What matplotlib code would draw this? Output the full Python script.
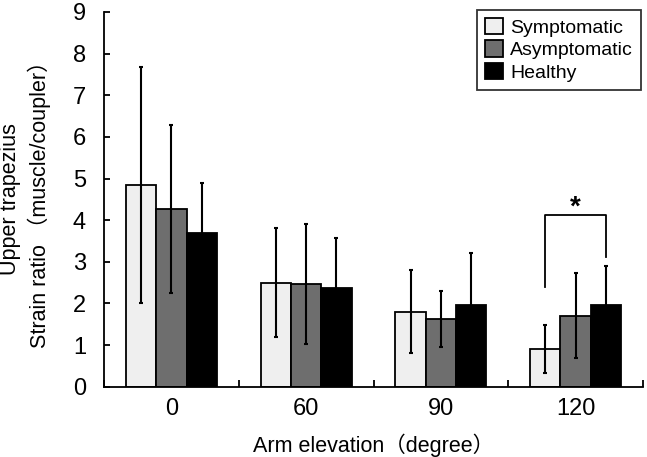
import matplotlib
matplotlib.use("Agg")
import matplotlib.pyplot as plt
import numpy as np
from matplotlib.patches import Patch

plt.rcParams['font.family'] = ['Liberation Sans', 'Noto Sans CJK JP', 'DejaVu Sans']

categories = ['0', '60', '90', '120']
series_names = ['Symptomatic', 'Asymptomatic', 'Healthy']
symptomatic = [4.85, 2.50, 1.80, 0.91]
symptomatic_sd = [2.84, 1.31, 1.00, 0.57]
asymptomatic = [4.27, 2.46, 1.63, 1.71]
asymptomatic_sd = [2.02, 1.44, 0.67, 1.03]
healthy = [3.69, 2.36, 1.96, 1.96]
healthy_sd = [1.21, 1.21, 1.26, 0.95]

means = [symptomatic, asymptomatic, healthy]
sds = [symptomatic_sd, asymptomatic_sd, healthy_sd]
colors = ['#efefef', '#6e6e6e', '#000000']

fig = plt.figure(figsize=(6.47, 4.57), dpi=100)
ax = fig.add_axes([104/647, 1-386.7/457, (643-104)/647, (386.7-12)/457])

x = np.arange(len(categories))
w = 0.225
for i, (m, s, c) in enumerate(zip(means, sds, colors)):
    pos = x + (i - 1) * w
    ax.bar(pos, m, width=w, color=c, edgecolor='black', linewidth=1.3, zorder=2)
    ax.errorbar(pos, m, yerr=s, fmt='none', ecolor='black', elinewidth=1.5,
                capsize=1.6, capthick=1.5, zorder=3)

# significance bracket at 120 (Symptomatic vs Healthy)
xl = x[3] - w
xr = x[3] + w
ax.plot([xl, xl, xr, xr], [2.40, 4.13, 4.13, 3.12], color='black', lw=1.3, zorder=3)
ax.text((xl + xr) / 2, 3.98, '*', ha='center', va='bottom', fontsize=20, fontweight='bold')

ax.set_xlim(-0.5, 3.5)
ax.set_ylim(0, 9)
ax.set_yticks(range(0, 10))
ax.set_xticks(x)
ax.set_xticklabels(categories)
ax.set_xticks(np.arange(-0.5, 4.0, 1.0), minor=True)
ax.tick_params(axis='x', which='major', length=0, labelsize=17, pad=8)
ax.tick_params(axis='x', which='minor', direction='in', length=5, width=1.3)
ax.tick_params(axis='y', direction='in', length=4.5, width=1.3, labelsize=17, pad=13)
for sp in ['top', 'right']:
    ax.spines[sp].set_visible(False)
for sp in ['left', 'bottom']:
    ax.spines[sp].set_linewidth(1.3)

ax.set_xlabel('Arm elevation（degree）', fontsize=15.5, labelpad=10)
ax.set_ylabel('Upper trapezius\nStrain ratio （muscle/coupler）', fontsize=15.5,
              linespacing=1.35)
ax.yaxis.set_label_coords(-0.098, 0.5)

handles = [Patch(facecolor=c, edgecolor='black', linewidth=1.3) for c in colors]
leg = ax.legend(handles, series_names, loc='upper right', bbox_to_anchor=(0.9957, 1.0053),
                fontsize=14, frameon=True, fancybox=False, edgecolor='black',
                handlelength=0.95, handleheight=0.9, handletextpad=0.35,
                borderpad=0.4, labelspacing=0.2, borderaxespad=0)
leg.get_frame().set_linewidth(1.3)

fig.savefig('out.png', dpi=100)
